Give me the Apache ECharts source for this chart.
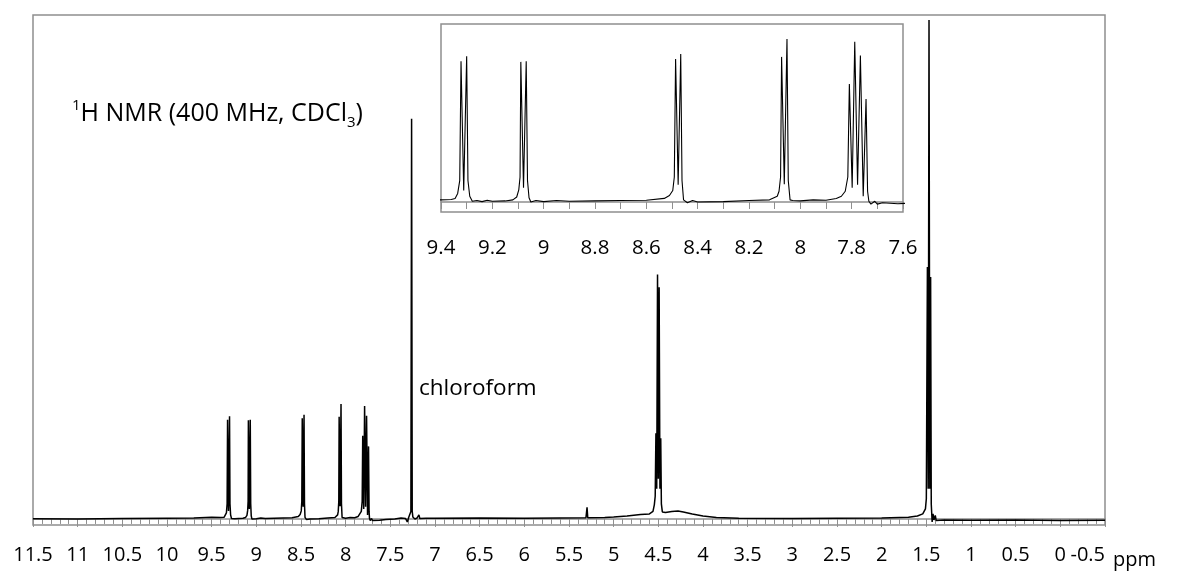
<!DOCTYPE html>
<html style="height: 100%">
<head>
<meta charset="utf-8">
<style type="text/css">
* {
	margin: 0;
	padding: 0;
}
</style>
</head>
<body style="height: 100%; margin: 0; background: #fff">
	<div id="nmr" style="width: 1197px; height: 579px"></div>
	<script type="text/javascript" src="https://cdn.jsdelivr.net/npm/echarts/dist/echarts.min.js"></script>
	<script type="text/javascript">

var shiftPpm = [
	11.5, 11.0, 10.5, 10.0, 9.7, 9.5, 9.4, 9.36,
	9.345, 9.335, 9.327, 9.322, 9.3115, 9.300, 9.295, 9.288, 9.278,
	9.26, 9.24, 9.22, 9.20, 9.15, 9.12,
	9.105, 9.097, 9.092, 9.089, 9.0785, 9.068, 9.063, 9.057,
	9.05, 9.03, 9.0, 8.95, 8.9, 8.8, 8.7, 8.6, 8.53, 8.51,
	8.497, 8.491, 8.486, 8.476, 8.466, 8.461, 8.455,
	8.44, 8.42, 8.40, 8.3, 8.2, 8.12, 8.09,
	8.083, 8.077, 8.073, 8.0625, 8.052, 8.047, 8.040,
	8.03, 8.0, 7.95, 7.9, 7.86, 7.84,
	7.825, 7.815, 7.809, 7.798, 7.788, 7.777, 7.766, 7.755, 7.744, 7.738, 7.733,
	7.725, 7.71, 7.70, 7.68, 7.62, 7.55, 7.45, 7.38, 7.33, 7.31, 7.295,
	7.28, 7.27, 7.262, 7.255, 7.248, 7.235, 7.225, 7.20, 7.18, 7.17,
	7.1, 7.0, 6.99, 6.98, 6.5, 6.0, 5.6,
	5.31, 5.298, 5.29, 5.1, 5.0, 4.85, 4.70, 4.60, 4.56,
	4.545, 4.535, 4.527, 4.518, 4.509, 4.500, 4.491, 4.482, 4.473, 4.466, 4.455,
	4.42, 4.35, 4.28, 4.22, 4.12, 4.0, 3.85, 3.6, 3.0, 2.5, 2.0, 1.7, 1.6, 1.54, 1.51,
	1.50, 1.488, 1.479, 1.470, 1.461, 1.452, 1.445, 1.435, 1.425, 1.415, 1.40, 1.39,
	1.3, 1.0, 0.5, 0.0, -0.5
];

// signal intensity at each point above (arbitrary units)
var signal = [
	0.05, 0.0, 0.1, 0.15, 0.2, 0.35, 0.3, 0.35,
	0.5, 1.2, 3, 19.7, 1.6, 20.4, 3, 0.8, 0.1,
	0.2, 0.05, 0.25, 0.1, 0.15, 0.3,
	0.7, 1.7, 3.5, 19.6, 2.0, 19.7, 3, 0.6,
	0.0, 0.2, 0.05, 0.2, 0.1, 0.15, 0.2, 0.25, 0.5, 0.9,
	1.6, 3.5, 20.0, 2.4, 20.7, 3, 0.3,
	-0.1, 0.2, 0.0, 0.05, 0.2, 0.3, 0.8,
	1.5, 3.5, 20.3, 2.5, 22.8, 3, 0.3,
	0.2, 0.15, 0.3, 0.25, 0.5, 0.8,
	1.5, 3.5, 16.5, 2.0, 22.4, 2.4, 20.5, 0.8, 14.4, 1.5, 0.1,
	-0.3, 0.1, -0.3, -0.1, -0.25, -0.1, 0.0, 0.2, 0.1, -0.6, 0.3,
	0.6, 1.5, 79.4, 1.5, 0.4, 0.6, 0.0, 0.2, 0.8, 0.1,
	0.15, 0.15, 0.5, 0.1, 0.2, 0.15, 0.2,
	0.25, 2.3, 0.25, 0.3, 0.4, 0.6, 0.9, 1.0, 1.5,
	2.8, 4.5, 17, 6, 48.5, 8, 46, 6, 16, 3, 1.4,
	1.3, 1.5, 1.6, 1.4, 1.0, 0.6, 0.3, 0.15, 0.1, 0.15, 0.2, 0.35, 0.6, 1.0, 2.0,
	4, 50, 6, 99, 6, 48, 3, -0.6, 1.0, -0.2, 0.7, -0.3,
	-0.2, -0.25, -0.2, -0.3, -0.25
];

var mainRange = [-0.5, 11.5];
var insetRange = [7.6, 9.4];

var spectrum = [];
for (var i = 0; i < shiftPpm.length; i++) {
	spectrum.push([shiftPpm[i], signal[i]]);
}

var dom = document.getElementById("nmr");
var myChart = echarts.init(dom);

var fontName = 'Open Sans';
var frameGrey = '#8f8f8f';

option = {
	animation: false,
	backgroundColor: '#fff',
	grid: [{
		left: 33, right: 92, top: 15, bottom: 54,
		show: true, borderColor: frameGrey, borderWidth: 1.5
	}, {
		left: 441, right: 294, top: 24, bottom: 367,
		show: true, borderColor: frameGrey, borderWidth: 1.5
	}],
	xAxis: [{
		gridIndex: 0,
		type: 'value',
		inverse: true,
		min: mainRange[0],
		max: mainRange[1],
		interval: 0.5,
		splitLine: { show: false },
		axisLine: { lineStyle: { color: frameGrey, width: 1.5 } },
		axisTick: { length: 8, lineStyle: { color: frameGrey } },
		minorTick: { show: true, splitNumber: 5, length: 5, lineStyle: { color: frameGrey } },
		axisLabel: { color: '#000', fontFamily: fontName, fontSize: 20, margin: 20, alignMinLabel: 'right' }
	}, {
		gridIndex: 1,
		type: 'value',
		inverse: true,
		min: insetRange[0],
		max: insetRange[1],
		interval: 0.2,
		splitLine: { show: false },
		axisLine: { lineStyle: { color: frameGrey, width: 1.5 } },
		axisTick: { length: 7, lineStyle: { color: frameGrey } },
		minorTick: { show: true, splitNumber: 2, length: 7, lineStyle: { color: frameGrey } },
		axisLabel: { color: '#000', fontFamily: fontName, fontSize: 20.5, margin: 26 }
	}],
	yAxis: [{
		gridIndex: 0, type: 'value', min: -1.2, max: 100, show: false
	}, {
		gridIndex: 1, type: 'value', min: -1.4, max: 24.9, show: false
	}],
	series: [{
		type: 'line',
		xAxisIndex: 0,
		yAxisIndex: 0,
		showSymbol: false,
		clip: true,
		lineStyle: { color: '#000', width: 1.5 },
		data: spectrum
	}, {
		type: 'line',
		xAxisIndex: 1,
		yAxisIndex: 1,
		showSymbol: false,
		clip: true,
		lineStyle: { color: '#000', width: 1.1 },
		data: spectrum
	}],
	graphic: [{
		type: 'text',
		left: 72,
		top: 98,
		style: {
			text: '{sup|1}H NMR (400 MHz, CDCl{sub|3})',
			fill: '#000',
			font: '25px "Open Sans"',
			rich: {
				sup: { fontSize: 15, fontFamily: fontName, verticalAlign: 'top', lineHeight: 32, padding: [0, 0, 12, 0] },
				sub: { fontSize: 15, fontFamily: fontName, verticalAlign: 'bottom', lineHeight: 32, padding: [12, 0, 0, 0] }
			}
		}
	}, {
		type: 'text',
		left: 419,
		top: 377,
		style: { text: 'chloroform', fill: '#000', font: '22.5px "Open Sans"' }
	}, {
		type: 'text',
		left: 1113,
		top: 550,
		style: { text: 'ppm', fill: '#000', font: '20px "Open Sans"' }
	}]
};

myChart.setOption(option);
	</script>
</body>
</html>
